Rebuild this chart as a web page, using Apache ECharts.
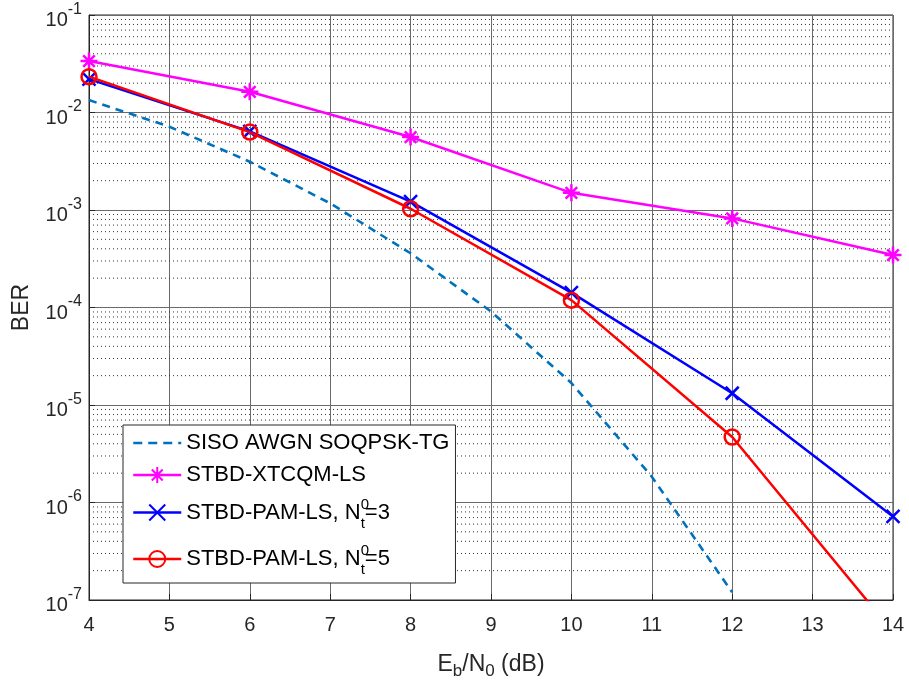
<!DOCTYPE html>
<html>
<head>
<meta charset="utf-8">
<script src="https://cdn.jsdelivr.net/npm/echarts@6/dist/echarts.min.js"></script>
<style>
  html, body { margin: 0; padding: 0; background: #fff; }
  #chart { width: 909px; height: 682px; }
</style>
</head>
<body>
<div id="chart"></div>
<script>
// ---- data ----
const sisoX = [4, 5, 6, 7, 8, 9, 10, 11, 12];
const sisoBER = [1.34e-2, 7.15e-3, 3.13e-3, 1.17e-3, 3.6e-4, 9.1e-5, 1.68e-5, 1.84e-6, 1.2e-7];

const snrX = [4, 6, 8, 10, 12, 14];
const xtcqmBER = [3.37e-2, 1.63e-2, 5.6e-3, 1.5e-3, 8.2e-4, 3.45e-4];
const pam3BER = [2.2e-2, 6.4e-3, 1.22e-3, 1.42e-4, 1.32e-5, 7.2e-7];
const pam5BER = [2.33e-2, 6.3e-3, 1.03e-3, 1.19e-4, 4.7e-6, 4.7e-8];

const seriesNames = ['SISO AWGN SOQPSK-TG', 'STBD-XTCQM-LS', 'STBD-PAM-LS, N_t^0=3', 'STBD-PAM-LS, N_t^0=5'];

const xTicks = [4, 5, 6, 7, 8, 9, 10, 11, 12, 13, 14];
const yDecades = [-7, -6, -5, -4, -3, -2, -1];

// minor grid values 2..9 x 10^k (dotted horizontal grid lines)
const minorGrid = [];
for (let k = -7; k < -1; k++) {
  for (let m = 2; m <= 9; m++) minorGrid.push(m * Math.pow(10, k));
}
const minorGridData = [];
minorGrid.forEach(v => { minorGridData.push([4, v], [14, v], '-'); });

const FONT = "'Liberation Sans', Arial, Helvetica, sans-serif";
const pair = (xs, ys) => xs.map((x, i) => [x, ys[i]]);

const starPath = 'path://M5,0L5,10M0,5L10,5M1.6,1.6L8.4,8.4M8.4,1.6L1.6,8.4';
const xPath = 'path://M0,0L10,10M10,0L0,10';
const dashIcon = 'path://M0,8.7h9v2.6h-9zM15,8.7h9v2.6h-9zM30,8.7h9v2.6h-9zM45,8.7h3v2.6h-3zM0,0h0.01v0.01h-0.01zM0,20h0.01v0.01h-0.01z';

const chart = echarts.init(document.getElementById('chart'), null, { renderer: 'canvas' });

chart.setOption({
  animation: false,
  backgroundColor: '#fff',
  textStyle: { fontFamily: FONT },
  grid: {
    left: 89, right: 16, top: 15, bottom: 82,
    outerBoundsMode: 'none',
    containLabel: false,
    show: true, borderColor: '#262626', borderWidth: 1, backgroundColor: 'transparent'
  },
  xAxis: {
    type: 'value',
    min: 4, max: 14, interval: 1,
    name: '{m|E}{sub|b}{m|/N}{sub|0}{m| (dB)}',
    nameLocation: 'middle',
    nameGap: 52,
    nameTextStyle: {
      fontFamily: FONT,
      rich: {
        m: { fontSize: 23, lineHeight: 26, color: '#262626', fontFamily: FONT },
        sub: { fontSize: 17, lineHeight: 17, padding: [12, 0, 0, 0], color: '#262626', fontFamily: FONT }
      }
    },
    axisLine: { show: true, onZero: false, lineStyle: { color: '#262626', width: 1 } },
    axisTick: { show: true, inside: true, length: 6, lineStyle: { color: '#262626' } },
    axisLabel: { color: '#262626', fontSize: 20, margin: 15, fontFamily: FONT },
    splitLine: { show: true, lineStyle: { color: '#6a6a6a', width: 1 } }
  },
  yAxis: {
    type: 'log',
    logBase: 10,
    min: 1e-7, max: 1e-1,
    interval: 1,
    name: 'BER',
    nameLocation: 'middle',
    nameGap: 56,
    nameTextStyle: { fontSize: 23, color: '#262626', fontFamily: FONT },
    axisLine: { show: true, lineStyle: { color: '#262626', width: 1 } },
    axisTick: { show: true, inside: true, length: 6, lineStyle: { color: '#262626' } },
    axisLabel: {
      margin: 7,
      formatter: function (v) {
        const e = Math.round(Math.log10(v));
        return '{b|10}{s|' + e + '}';
      },
      rich: {
        b: { fontSize: 20, lineHeight: 20, color: '#262626', padding: [11, 0, 0, 0], fontFamily: FONT },
        s: { fontSize: 16, lineHeight: 16, color: '#262626', padding: [0, 0, 11, 0], fontFamily: FONT }
      }
    },
    splitLine: { show: true, lineStyle: { color: '#6a6a6a', width: 1 } }
  },
  legend: {
    orient: 'vertical',
    left: 123, top: 425,
    padding: [4, 6, 1, 9],
    itemGap: 4,
    itemWidth: 48,
    itemHeight: 20,
    backgroundColor: '#fff',
    borderColor: '#262626',
    borderWidth: 1,
    borderRadius: 0,
    lineStyle: { width: 2.5 },
    data: [
      { name: seriesNames[0], icon: dashIcon, itemStyle: { color: '#0072bd' } },
      seriesNames[1], seriesNames[2], seriesNames[3]
    ],
    textStyle: { fontSize: 22, lineHeight: 28, color: '#000', fontFamily: FONT,
      rich: {
        m3: { fontSize: 22, lineHeight: 39, color: '#000', fontFamily: FONT },
        m4: { fontSize: 22, lineHeight: 46, color: '#000', fontFamily: FONT },
        sup3: { fontSize: 15, lineHeight: 15, width: 0.01, verticalAlign: 'top', padding: [4, 0, 0, 0], color: '#000', fontFamily: FONT },
        sub3: { fontSize: 15, lineHeight: 15, verticalAlign: 'bottom', padding: [0, 0, 1, 0], color: '#000', fontFamily: FONT },
        sup4: { fontSize: 15, lineHeight: 15, width: 0.01, verticalAlign: 'top', padding: [7.5, 0, 0, 0], color: '#000', fontFamily: FONT },
        sub4: { fontSize: 15, lineHeight: 15, verticalAlign: 'bottom', padding: [0, 0, 4.5, 0], color: '#000', fontFamily: FONT }
      }
    },
    formatter: function (name) {
      const i = seriesNames.indexOf(name);
      if (i === 2 || i === 3) {
        const k = i === 2 ? '3' : '4';
        const val = name.split('=')[1];
        return '{m' + k + '|STBD-PAM-LS, N}{sup' + k + '|0}{sub' + k + '|t}{m' + k + '|=' + val + '}';
      }
      return name;
    }
  },
  series: [
    {
      name: 'minorgrid',
      type: 'line',
      data: minorGridData,
      silent: true,
      symbol: 'none',
      z: 1,
      connectNulls: false,
      lineStyle: { type: [1, 3], color: '#333', width: 1 },
      emphasis: { disabled: true }
    },
    {
      name: seriesNames[0],
      type: 'line',
      data: pair(sisoX, sisoBER),
      symbol: 'none',
      z: 3,
      lineStyle: { color: '#0072bd', width: 2.6, type: [8, 6] },
      itemStyle: { color: '#0072bd' }
    },
    {
      name: seriesNames[1],
      type: 'line',
      data: pair(snrX, xtcqmBER),
      symbol: starPath,
      symbolSize: 17,
      z: 4,
      lineStyle: { color: '#ff00ff', width: 2.5 },
      itemStyle: { color: 'none', borderColor: '#ff00ff', borderWidth: 2.5 }
    },
    {
      name: seriesNames[2],
      type: 'line',
      data: pair(snrX, pam3BER),
      symbol: xPath,
      symbolSize: 13,
      z: 5,
      lineStyle: { color: '#0000ff', width: 2.5 },
      itemStyle: { color: 'none', borderColor: '#0000ff', borderWidth: 2.5 }
    },
    {
      name: seriesNames[3],
      type: 'line',
      data: pair(snrX, pam5BER),
      symbol: 'circle',
      symbolSize: 15,
      z: 6,
      clip: true,
      lineStyle: { color: '#ff0000', width: 2.5 },
      itemStyle: { color: 'none', borderColor: '#ff0000', borderWidth: 2.5 }
    }
  ]
});
</script>
</body>
</html>
